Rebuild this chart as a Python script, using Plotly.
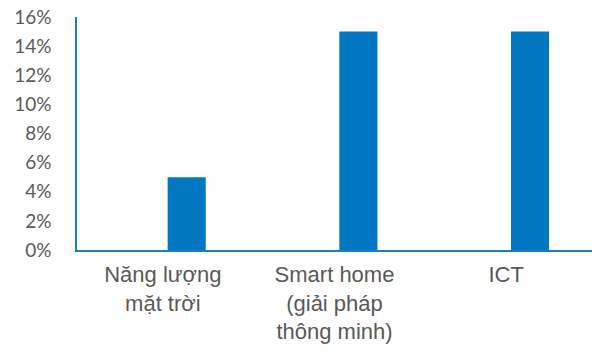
import plotly.graph_objects as go

categories = ["Năng lượng<br>mặt trời", "Smart home<br>(giải pháp<br>thông minh)", "ICT"]
values = [0.05, 0.15, 0.15]
y_ticks = [0, 0.02, 0.04, 0.06, 0.08, 0.10, 0.12, 0.14, 0.16]

fig = go.Figure(go.Bar(
    x=categories, y=values,
    marker=dict(color="#0077C0", line=dict(width=0)),
    width=0.222, offset=0.028,
))

axis_col = "#1A7DC6"
fig.update_layout(
    width=592, height=350,
    margin=dict(l=77, r=0, t=17, b=100),
    plot_bgcolor="white", paper_bgcolor="white",
    showlegend=False,
    xaxis=dict(showline=True, linecolor=axis_col, linewidth=1.5, showgrid=False,
               ticks="", ticklabelstandoff=4,
               tickfont=dict(family="Liberation Sans, Arial", size=22, color="#595959"),
               range=[-0.5, 2.5]),
    yaxis=dict(showline=True, linecolor=axis_col, linewidth=1.5, showgrid=False, zeroline=False,
               range=[0, 0.16], tickvals=y_ticks, tickformat=".0%", ticks="",
               ticklabelstandoff=20,
               tickfont=dict(family="Lato, Open Sans", size=19, color="#595959")),
)

fig.write_html("out.html")
